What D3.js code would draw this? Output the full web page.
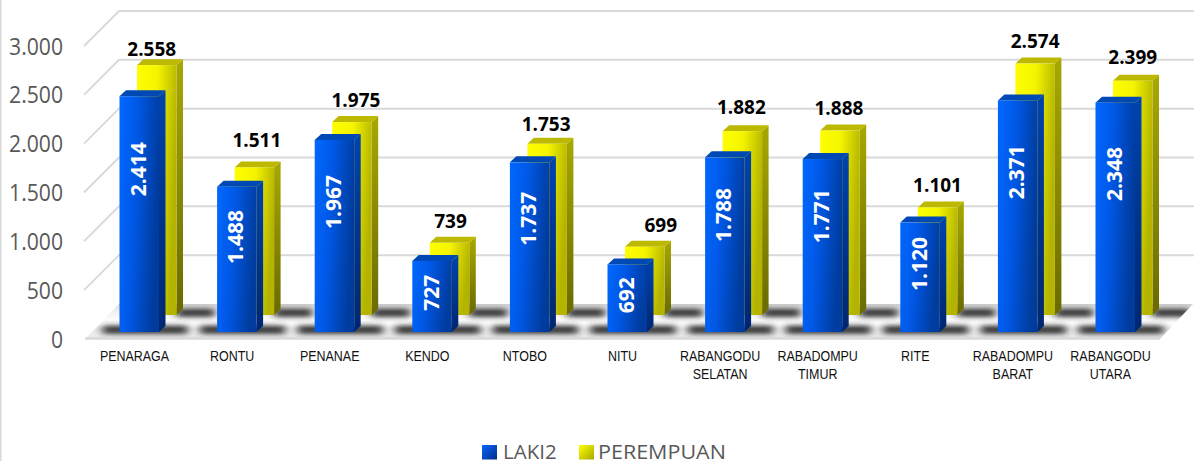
<!DOCTYPE html>
<html><head><meta charset="utf-8">
<script src="https://cdn.jsdelivr.net/npm/d3@7/dist/d3.min.js"></script>
<style>html,body{margin:0;padding:0;background:#fff;overflow:hidden}svg{display:block}</style>
</head><body><svg id="c" width="1194" height="461"></svg>
<script>
const categories=[["PENARAGA"],["RONTU"],["PENANAE"],["KENDO"],["NTOBO"],["NITU"],["RABANGODU","SELATAN"],["RABADOMPU","TIMUR"],["RITE"],["RABADOMPU","BARAT"],["RABANGODU","UTARA"]];
const laki=[2414,1488,1967,727,1737,692,1788,1771,1120,2371,2348];
const perempuan=[2558,1511,1975,739,1753,699,1882,1888,1101,2574,2399];
const ticks=[0,500,1000,1500,2000,2500,3000];
const seriesNames=["LAKI2","PEREMPUAN"];
// hand-placed data-label nudges of the yellow series
const labelShift=[-4,3.5,5,2,0,17,0,0,1,1,1];
const labelLift=[9,20,15,15,13,15,17,16,15,16,17];

const fmt=d=>String(d).replace(/\B(?=(\d{3})+$)/g,".");
const svg=d3.select("#c");
const defs=svg.append("defs");
function grad(id,stops,x2,y2){
  const g=defs.append("linearGradient").attr("id",id).attr("x1",0).attr("y1",0).attr("x2",x2).attr("y2",y2);
  stops.forEach(s=>g.append("stop").attr("offset",s[0]).attr("stop-color",s[1]));
}
grad("bF",[[0,"#0068ff"],[0.45,"#0058e6"],[1,"#003c9e"]],1,0.25);
grad("bS",[[0,"#0043b0"],[1,"#002670"]],0,1);
grad("yF",[[0,"#ffff00"],[0.5,"#f4f400"],[1,"#b4b400"]],1,0.25);
grad("yS",[[0,"#a8a800"],[1,"#6a6a00"]],0,1);
grad("bL",[[0,"#0a66ff"],[1,"#002f86"]],1,1);
grad("yL",[[0,"#ffff00"],[1,"#a8a800"]],1,1);
grad("floor",[[0,"#d4d4d4"],[0.1,"#e8e8e8"],[0.42,"#fbfbfb"],[0.58,"#ffffff"],[0.7,"#ececec"],[0.92,"#eeeeee"],[1,"#d9d9d9"]],0,1);
defs.append("filter").attr("id","blur").attr("x","-30%").attr("y","-100%").attr("width","160%").attr("height","300%")
  .append("feGaussianBlur").attr("stdDeviation","4.5 2.4");

const backY=304, depth=35, floorRight=1193;
const y=d3.scaleLinear().domain([0,3000]).range([backY,11]);
const x=d3.scaleBand().domain(d3.range(categories.length)).range([119.5-7.6,119.5-7.6+97.6*categories.length]).paddingInner(0).paddingOuter(0);
const barW=39.5, dx=6.5, dy=6;
const h=v=>backY-y(v);
const blueX=i=>x(i)+7.6, yelX=i=>blueX(i)+17.5;
const blueBase=332, yelBase=315;

svg.append("rect").attr("x",0).attr("y",0).attr("width",1.5).attr("height",461).attr("fill","#d9d9d9");

// walls
const grid=svg.append("g").attr("fill","none").attr("stroke","#d9d9d9").attr("stroke-width",2);
ticks.filter(t=>t>0).forEach(t=>{
  grid.append("path").attr("d",`M${119-depth},${y(t)+depth}L119,${y(t)}L1194,${y(t)}`);
});

// floor
const floorPts=`85,339 1160,339 ${floorRight},${backY} 119,${backY}`;
defs.append("clipPath").attr("id","fc").append("polygon").attr("points",floorPts);
svg.append("polygon").attr("points",floorPts).attr("fill","url(#floor)");
const sh=svg.append("g").attr("clip-path","url(#fc)").append("g").attr("filter","url(#blur)").attr("fill","#222");
laki.forEach((d,i)=>{
  sh.append("rect").attr("x",yelX(i)+barW).attr("y",308.5).attr("width",38).attr("height",8.5).attr("opacity",.9);
  sh.append("rect").attr("x",blueX(i)-17).attr("y",325.5).attr("width",85).attr("height",8.5).attr("opacity",.9);
});
svg.append("path").attr("d",`M85,338.5H1160`).attr("stroke","#d9d9d9").attr("stroke-width",2.5);

function bar(g,X,base,H,f,s,t){
  g.append("polygon").attr("points",[[X+barW,base],[X+barW+dx,base-dy],[X+barW+dx,base-H-dy],[X+barW,base-H]].join(" ")).attr("fill",`url(#${s})`);
  g.append("polygon").attr("points",[[X,base-H],[X+dx,base-H-dy],[X+barW+dx,base-H-dy],[X+barW,base-H]].join(" ")).attr("fill",t);
  g.append("rect").attr("x",X).attr("y",base-H).attr("width",barW).attr("height",H).attr("fill",`url(#${f})`);
}
const bars=svg.append("g");
perempuan.forEach((v,i)=>bar(bars,yelX(i),yelBase,h(v),"yF","yS","#bdb900"));
laki.forEach((v,i)=>bar(bars,blueX(i),blueBase,h(v),"bF","bS","#0049b5"));

// tick labels
ticks.forEach(t=>{
  svg.append("text").attr("transform",`translate(63,${y(t)+depth+8.5}) scale(.9,1)`)
    .attr("text-anchor","end").attr("font-family","'Open Sans'").attr("font-size",23.5).attr("fill","#595959").text(fmt(t));
});
// value labels
perempuan.forEach((v,i)=>{
  svg.append("text").attr("x",yelX(i)+barW/2+labelShift[i]-1).attr("y",yelBase-h(v)-labelLift[i])
    .attr("text-anchor","middle").attr("font-family","'Open Sans'").attr("font-weight",700).attr("font-size",19).attr("fill","#000").text(fmt(v));
});
laki.forEach((v,i)=>{
  const cy=blueBase-(0.75*h(v)-14);
  svg.append("text").attr("transform",`translate(${blueX(i)+barW/2-1},${cy}) rotate(-90)`)
    .attr("text-anchor","middle").attr("dy","0.36em").attr("font-family","'Open Sans'").attr("font-weight",700).attr("font-size",21).attr("fill","#fff").text(fmt(v));
});
// categories
categories.forEach((c,i)=>{
  c.forEach((line,j)=>{
    svg.append("text").attr("transform",`translate(${blueX(i)+15},${361+j*18}) scale(.89,1)`)
      .attr("text-anchor","middle").attr("font-family","'Liberation Sans'").attr("font-size",14).attr("fill","#111").text(line);
  });
});
// legend
const lg=svg.append("g");
[[482,"bL",503],[579,"yL",598]].forEach((l,i)=>{
  lg.append("rect").attr("x",l[0]).attr("y",445).attr("width",15).attr("height",14.5).attr("fill",`url(#${l[1]})`);
  lg.append("text").attr("transform",`translate(${l[2]},458.5) scale(${i?1.05:1},1)`).attr("font-family","'Open Sans'").attr("font-size",20.5).attr("fill","#595959").text(seriesNames[i]);
});
</script></body></html>
